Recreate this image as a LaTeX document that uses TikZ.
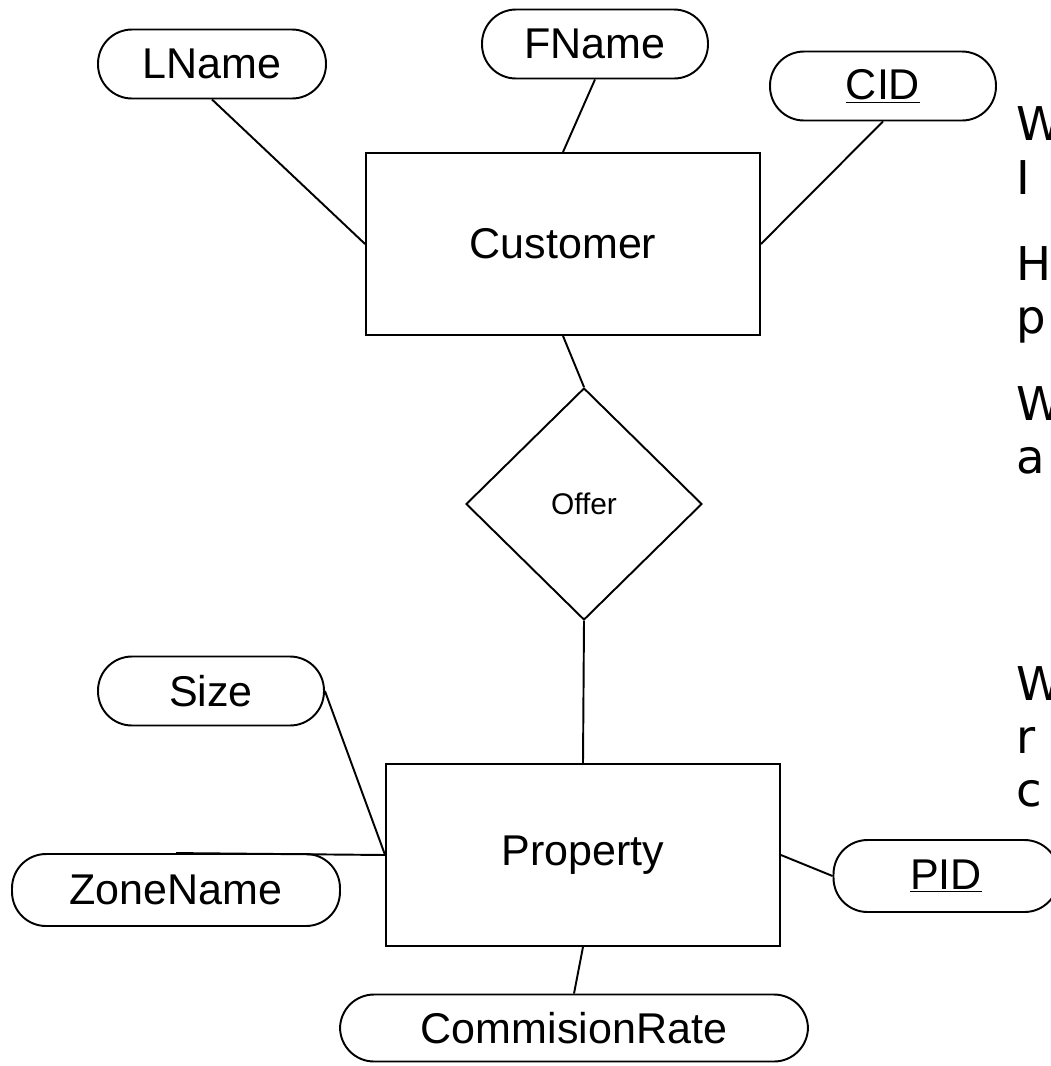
\documentclass[tikz,border=0pt]{standalone}
\usepackage{fontspec}
\setmainfont{Liberation Sans}
\newfontfamily\notefont{DejaVu Sans}
\usetikzlibrary{shapes.geometric, positioning}

\begin{document}
\begin{tikzpicture}[x=0.02cm, y=-0.02cm, line width=1.1pt,
	font=\fontsize{24.5}{29}\selectfont,
	entity/.style={draw, rectangle, minimum width=7.88cm, minimum height=3.64cm},
	attr/.style={draw, rectangle, rounded corners=0.68cm, minimum width=4.56cm, minimum height=1.38cm, inner sep=0pt},
	relation/.style={draw, diamond, minimum width=4.72cm, minimum height=4.64cm, inner sep=0pt},
	note/.style={anchor=base west, inner sep=0pt, font=\notefont\fontsize{26.5}{30}\selectfont}]
	\useasboundingbox (0,0) rectangle (1051,1066);

	% Entities
	\node[entity] (Customer) at (563,244) {Customer};
	\node[entity] (Property) at (583,855) {Property};

	% Relationship
	\node[relation, font=\fontsize{17}{20}\selectfont] (Offer) at (584,504) {Offer};

	% Attributes of Customer
	\node[attr] (LName) at (212,64) {LName};
	\node[attr, minimum width=4.52cm] (FName) at (595,44) {FName};
	\node[attr, minimum width=4.52cm] (CID) at (883,86) {\underline{CID}};

	% Attributes of Property
	\node[attr, minimum width=4.52cm] (Size) at (211,691) {Size};
	\node[attr, minimum width=6.56cm, minimum height=1.44cm] (ZoneName) at (176,890) {ZoneName};
	\node[attr, minimum width=4.5cm, minimum height=1.44cm] (PID) at (946,876) {\underline{PID}};
	\node[attr, minimum width=9.36cm, minimum height=1.34cm] (CommisionRate) at (574,1028) {CommisionRate};

	% Connectors
	\draw (LName.south) -- (Customer.west);
	\draw (FName.south) -- (Customer.north);
	\draw (CID.south) -- (Customer.east);
	\draw (Customer.south) -- (Offer.north);
	\draw (Offer.south) -- (Property.north);
	\draw (Size.east) -- (Property.west);
	\draw (ZoneName.north) -- (Property.west);
	\draw (Property.east) -- (PID.west);
	\draw (Property.south) -- (CommisionRate.north);

	% Text cut off at the right edge
	\node[note] (t1) at (1016,140) {W};
	\node[note] (t2) at (1016,194) {I};
	\node[note] (t3) at (1016,280) {H};
	\node[note] (t4) at (1016,333) {p};
	\node[note] (t5) at (1016,420) {W};
	\node[note] (t6) at (1016,473) {a};
	\node[note] (t7) at (1016,700) {W};
	\node[note] (t8) at (1016,753) {r};
	\node[note] (t9) at (1016,806) {c};
\end{tikzpicture}
\end{document}
